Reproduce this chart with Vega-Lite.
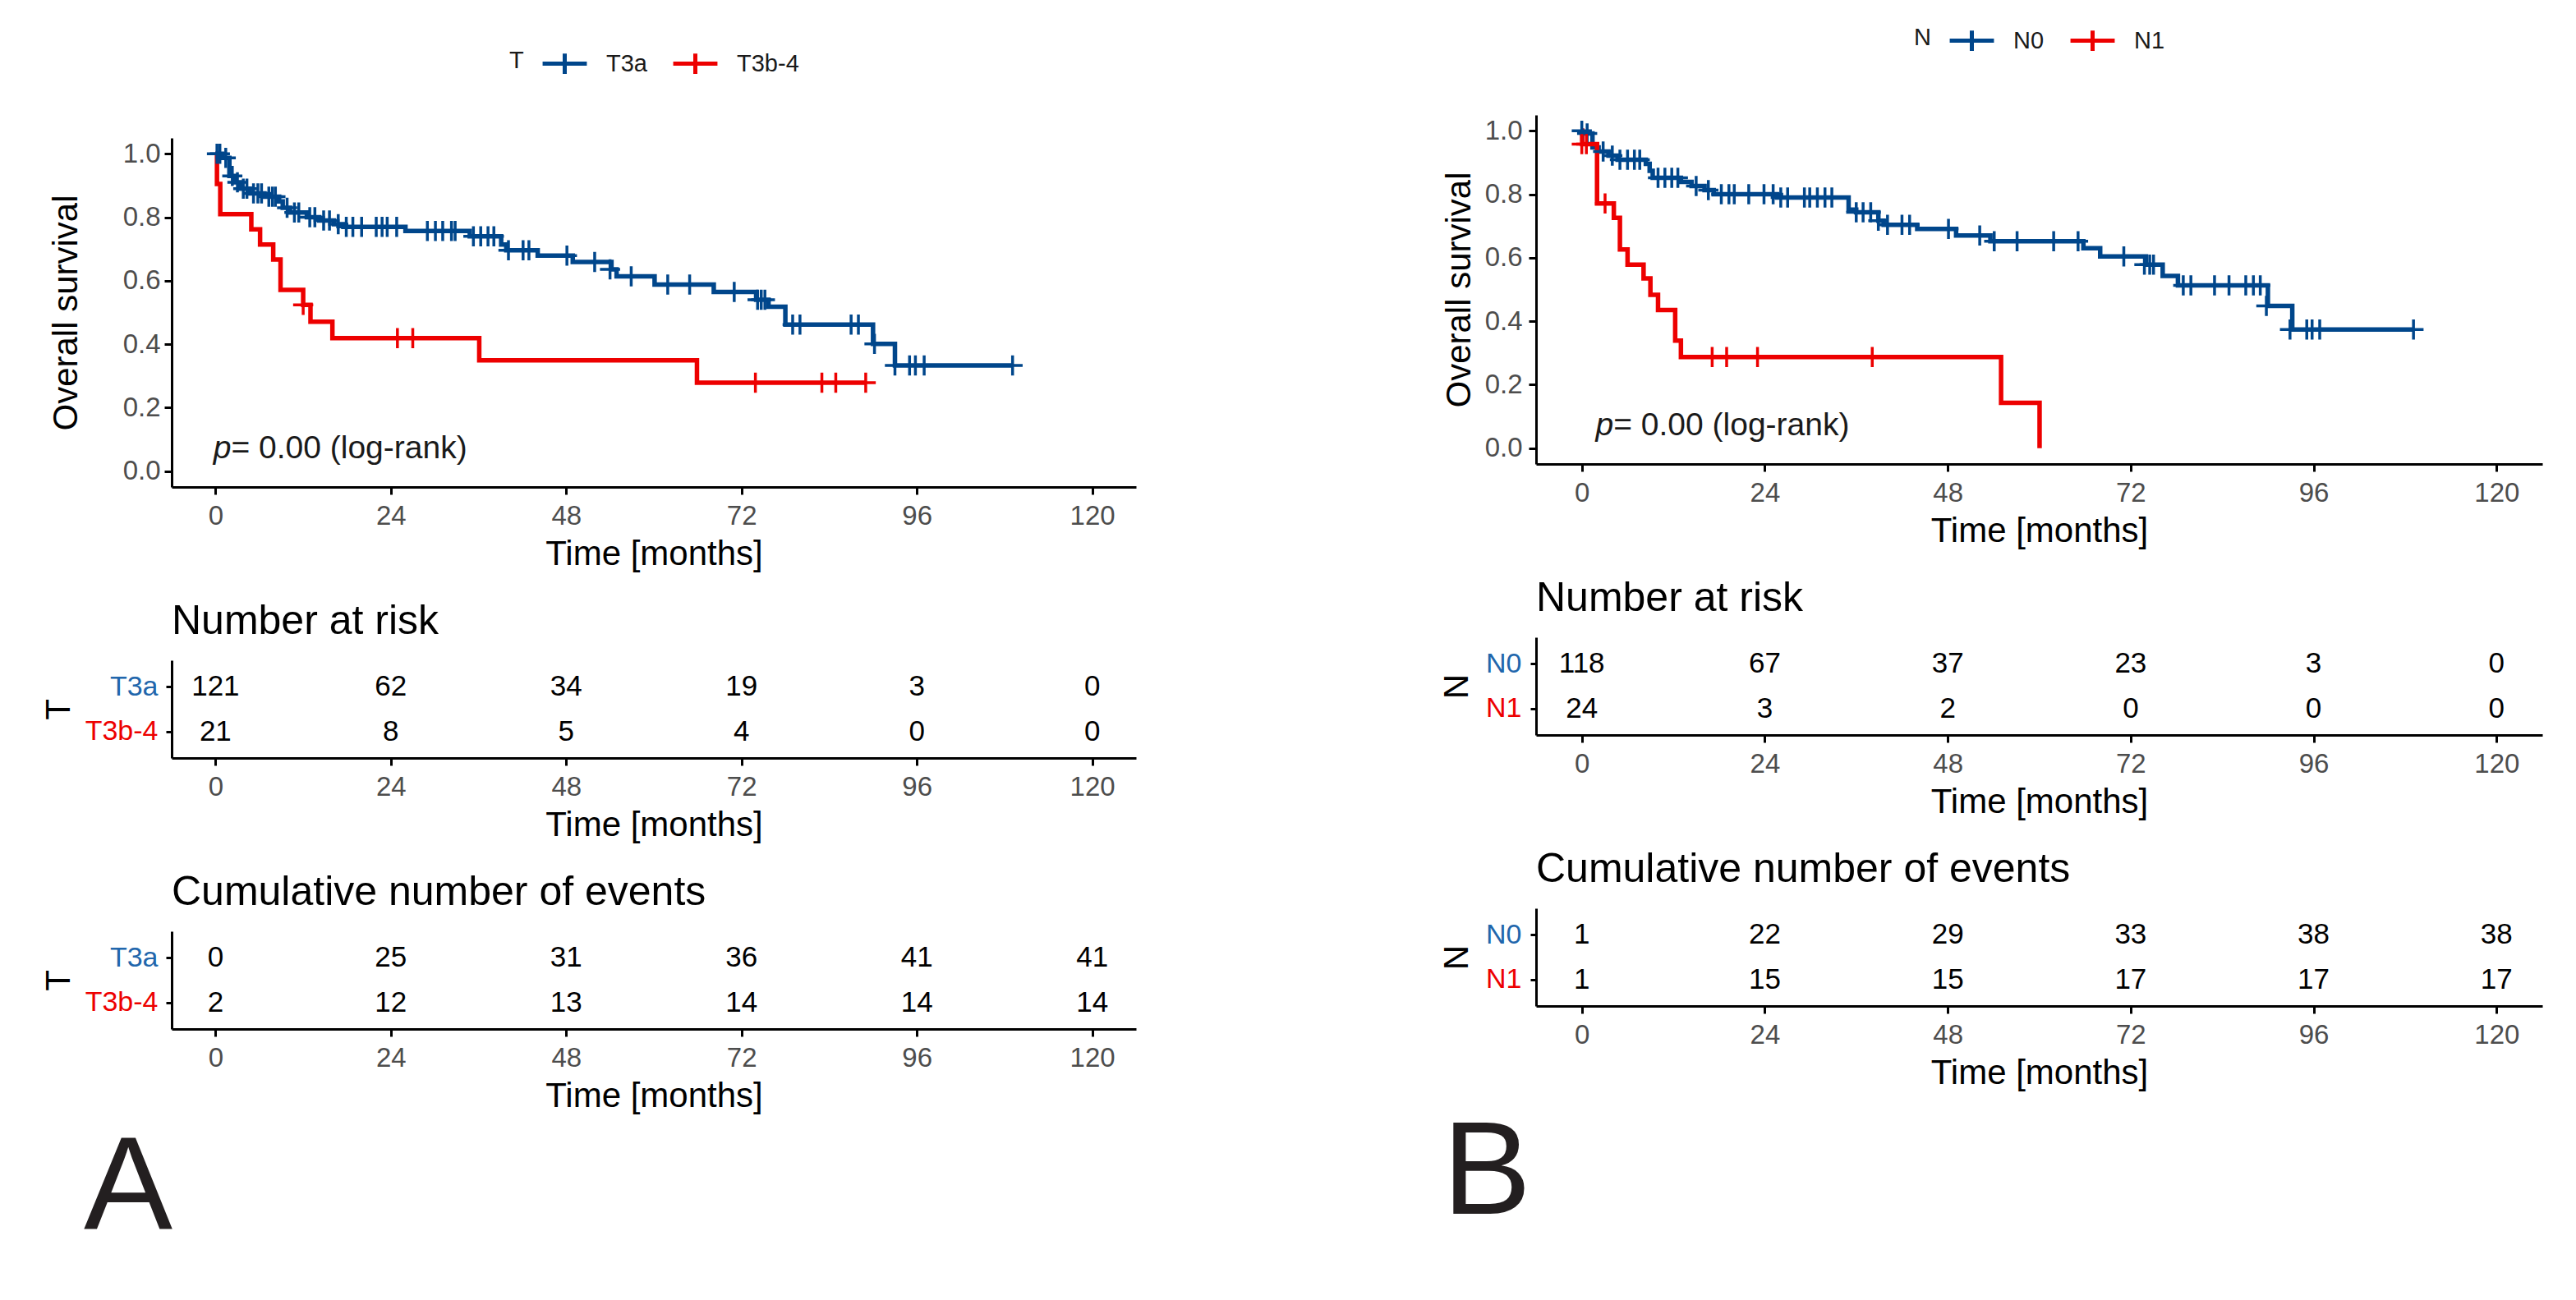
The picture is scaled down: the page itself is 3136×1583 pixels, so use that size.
{
  "$schema": "https://vega.github.io/schema/vega-lite/v6.json",
  "background": "white",
  "padding": {"left": 50, "top": 20, "right": 5, "bottom": 5},
  "config": {
    "view": {"stroke": null},
    "font": "Liberation Sans",
    "axis": {"domainColor": "#000000", "domainWidth": 3, "tickColor": "#000000", "tickWidth": 3, "tickSize": 9, "labelColor": "#4D4D4D", "labelFont": "Liberation Sans", "labelFontSize": 33, "titleFont": "Liberation Sans", "titleFontSize": 42, "titleFontWeight": "normal", "titleColor": "#000000", "grid": false, "labelFlush": false, "labelOverlap": false},
    "axisX": {"labelPadding": 10.6, "titlePadding": 9},
    "legend": {"layout": {"top": {"anchor": "middle"}}},
    "title": {"font": "Liberation Sans", "fontWeight": "normal", "color": "#000000"}
  },
  "datasets": {
    "kmA": [
      {"g":"T3a","k":"s","t":0,"s":1.0},{"g":"T3a","k":"s","t":0.9,"s":0.987},{"g":"T3a","k":"s","t":1.9,"s":0.930},{"g":"T3a","k":"s","t":2.7,"s":0.910},{"g":"T3a","k":"s","t":3.4,"s":0.890},{"g":"T3a","k":"s","t":4.7,"s":0.875},{"g":"T3a","k":"s","t":6.7,"s":0.865},{"g":"T3a","k":"s","t":8.7,"s":0.850},{"g":"T3a","k":"s","t":9.2,"s":0.830},{"g":"T3a","k":"s","t":10.2,"s":0.815},{"g":"T3a","k":"s","t":12.5,"s":0.800},{"g":"T3a","k":"s","t":14.2,"s":0.790},{"g":"T3a","k":"s","t":16.2,"s":0.778},{"g":"T3a","k":"s","t":17.5,"s":0.770},{"g":"T3a","k":"s","t":26.0,"s":0.757},{"g":"T3a","k":"s","t":34.8,"s":0.740},{"g":"T3a","k":"s","t":39.1,"s":0.714},{"g":"T3a","k":"s","t":39.8,"s":0.696},{"g":"T3a","k":"s","t":44.1,"s":0.679},{"g":"T3a","k":"s","t":48.9,"s":0.659},{"g":"T3a","k":"s","t":54.2,"s":0.636},{"g":"T3a","k":"s","t":54.9,"s":0.614},{"g":"T3a","k":"s","t":60.1,"s":0.588},{"g":"T3a","k":"s","t":68.2,"s":0.565},{"g":"T3a","k":"s","t":74.0,"s":0.540},{"g":"T3a","k":"s","t":75.7,"s":0.518},{"g":"T3a","k":"s","t":78.0,"s":0.462},{"g":"T3a","k":"s","t":90.0,"s":0.401},{"g":"T3a","k":"s","t":93.0,"s":0.333},{"g":"T3a","k":"s","t":109.1,"s":0.333},
      {"g":"T3a","k":"c","t":0.2,"s":1.0},{"g":"T3a","k":"c","t":0.6,"s":1.0},{"g":"T3a","k":"c","t":1.4,"s":0.987},{"g":"T3a","k":"c","t":2.3,"s":0.930},{"g":"T3a","k":"c","t":3.0,"s":0.910},{"g":"T3a","k":"c","t":3.8,"s":0.890},{"g":"T3a","k":"c","t":4.3,"s":0.890},{"g":"T3a","k":"c","t":5.2,"s":0.875},{"g":"T3a","k":"c","t":5.8,"s":0.875},{"g":"T3a","k":"c","t":6.3,"s":0.875},{"g":"T3a","k":"c","t":7.3,"s":0.865},{"g":"T3a","k":"c","t":7.8,"s":0.865},{"g":"T3a","k":"c","t":8.2,"s":0.865},{"g":"T3a","k":"c","t":9.8,"s":0.830},{"g":"T3a","k":"c","t":10.8,"s":0.815},{"g":"T3a","k":"c","t":11.4,"s":0.815},{"g":"T3a","k":"c","t":12.9,"s":0.800},{"g":"T3a","k":"c","t":13.6,"s":0.800},{"g":"T3a","k":"c","t":14.8,"s":0.790},{"g":"T3a","k":"c","t":15.6,"s":0.790},{"g":"T3a","k":"c","t":16.8,"s":0.778},{"g":"T3a","k":"c","t":17.9,"s":0.770},{"g":"T3a","k":"c","t":18.8,"s":0.770},{"g":"T3a","k":"c","t":20.0,"s":0.770},{"g":"T3a","k":"c","t":22.0,"s":0.770},{"g":"T3a","k":"c","t":22.8,"s":0.770},{"g":"T3a","k":"c","t":23.5,"s":0.770},{"g":"T3a","k":"c","t":24.8,"s":0.770},{"g":"T3a","k":"c","t":29.0,"s":0.757},{"g":"T3a","k":"c","t":30.1,"s":0.757},{"g":"T3a","k":"c","t":31.1,"s":0.757},{"g":"T3a","k":"c","t":32.3,"s":0.757},{"g":"T3a","k":"c","t":32.8,"s":0.757},{"g":"T3a","k":"c","t":35.3,"s":0.740},{"g":"T3a","k":"c","t":36.3,"s":0.740},{"g":"T3a","k":"c","t":37.3,"s":0.740},{"g":"T3a","k":"c","t":38.1,"s":0.740},{"g":"T3a","k":"c","t":40.1,"s":0.696},{"g":"T3a","k":"c","t":42.1,"s":0.696},{"g":"T3a","k":"c","t":42.9,"s":0.696},{"g":"T3a","k":"c","t":48.1,"s":0.679},{"g":"T3a","k":"c","t":51.9,"s":0.659},{"g":"T3a","k":"c","t":54.0,"s":0.636},{"g":"T3a","k":"c","t":56.9,"s":0.614},{"g":"T3a","k":"c","t":61.9,"s":0.588},{"g":"T3a","k":"c","t":64.9,"s":0.588},{"g":"T3a","k":"c","t":71.0,"s":0.565},{"g":"T3a","k":"c","t":74.2,"s":0.540},{"g":"T3a","k":"c","t":74.7,"s":0.540},{"g":"T3a","k":"c","t":75.2,"s":0.540},{"g":"T3a","k":"c","t":79.0,"s":0.462},{"g":"T3a","k":"c","t":80.0,"s":0.462},{"g":"T3a","k":"c","t":87.0,"s":0.462},{"g":"T3a","k":"c","t":88.0,"s":0.462},{"g":"T3a","k":"c","t":90.2,"s":0.401},{"g":"T3a","k":"c","t":93.0,"s":0.333},{"g":"T3a","k":"c","t":95.0,"s":0.333},{"g":"T3a","k":"c","t":95.8,"s":0.333},{"g":"T3a","k":"c","t":97.0,"s":0.333},{"g":"T3a","k":"c","t":109.1,"s":0.333},
      {"g":"T3b-4","k":"s","t":0,"s":1.0},{"g":"T3b-4","k":"s","t":0.2,"s":0.905},{"g":"T3b-4","k":"s","t":0.65,"s":0.810},{"g":"T3b-4","k":"s","t":4.9,"s":0.762},{"g":"T3b-4","k":"s","t":6.1,"s":0.714},{"g":"T3b-4","k":"s","t":7.9,"s":0.667},{"g":"T3b-4","k":"s","t":8.9,"s":0.571},{"g":"T3b-4","k":"s","t":12.0,"s":0.524},{"g":"T3b-4","k":"s","t":13.0,"s":0.471},{"g":"T3b-4","k":"s","t":16.0,"s":0.419},{"g":"T3b-4","k":"s","t":36.1,"s":0.349},{"g":"T3b-4","k":"s","t":65.9,"s":0.279},{"g":"T3b-4","k":"s","t":89.0,"s":0.279},
      {"g":"T3b-4","k":"c","t":12.0,"s":0.524},{"g":"T3b-4","k":"c","t":24.9,"s":0.419},{"g":"T3b-4","k":"c","t":27.0,"s":0.419},{"g":"T3b-4","k":"c","t":73.9,"s":0.279},{"g":"T3b-4","k":"c","t":83.0,"s":0.279},{"g":"T3b-4","k":"c","t":84.9,"s":0.279},{"g":"T3b-4","k":"c","t":89.0,"s":0.279}
    ],
    "kmB": [
      {"g":"N0","k":"s","t":0,"s":1.0},{"g":"N0","k":"s","t":0.05,"s":0.992},{"g":"N0","k":"s","t":1.4,"s":0.948},{"g":"N0","k":"s","t":2.2,"s":0.935},{"g":"N0","k":"s","t":3.5,"s":0.922},{"g":"N0","k":"s","t":4.7,"s":0.909},{"g":"N0","k":"s","t":8.4,"s":0.896},{"g":"N0","k":"s","t":8.9,"s":0.874},{"g":"N0","k":"s","t":9.3,"s":0.852},{"g":"N0","k":"s","t":13.0,"s":0.839},{"g":"N0","k":"s","t":14.4,"s":0.826},{"g":"N0","k":"s","t":16.1,"s":0.813},{"g":"N0","k":"s","t":17.3,"s":0.800},{"g":"N0","k":"s","t":25.6,"s":0.790},{"g":"N0","k":"s","t":35.0,"s":0.752},{"g":"N0","k":"s","t":36.0,"s":0.743},{"g":"N0","k":"s","t":38.9,"s":0.717},{"g":"N0","k":"s","t":39.6,"s":0.704},{"g":"N0","k":"s","t":44.0,"s":0.691},{"g":"N0","k":"s","t":49.1,"s":0.670},{"g":"N0","k":"s","t":53.6,"s":0.652},{"g":"N0","k":"s","t":65.8,"s":0.630},{"g":"N0","k":"s","t":68.0,"s":0.604},{"g":"N0","k":"s","t":74.0,"s":0.578},{"g":"N0","k":"s","t":76.2,"s":0.543},{"g":"N0","k":"s","t":78.2,"s":0.513},{"g":"N0","k":"s","t":90.0,"s":0.448},{"g":"N0","k":"s","t":93.2,"s":0.374},{"g":"N0","k":"s","t":109.1,"s":0.374},
      {"g":"N0","k":"c","t":0.0,"s":1.0},{"g":"N0","k":"c","t":0.7,"s":0.992},{"g":"N0","k":"c","t":2.8,"s":0.935},{"g":"N0","k":"c","t":4.0,"s":0.922},{"g":"N0","k":"c","t":5.0,"s":0.909},{"g":"N0","k":"c","t":6.0,"s":0.909},{"g":"N0","k":"c","t":6.9,"s":0.909},{"g":"N0","k":"c","t":7.6,"s":0.909},{"g":"N0","k":"c","t":10.0,"s":0.852},{"g":"N0","k":"c","t":10.9,"s":0.852},{"g":"N0","k":"c","t":11.8,"s":0.852},{"g":"N0","k":"c","t":12.6,"s":0.852},{"g":"N0","k":"c","t":15.0,"s":0.826},{"g":"N0","k":"c","t":16.6,"s":0.813},{"g":"N0","k":"c","t":18.3,"s":0.800},{"g":"N0","k":"c","t":19.3,"s":0.800},{"g":"N0","k":"c","t":20.0,"s":0.800},{"g":"N0","k":"c","t":21.9,"s":0.800},{"g":"N0","k":"c","t":23.9,"s":0.800},{"g":"N0","k":"c","t":25.1,"s":0.800},{"g":"N0","k":"c","t":26.1,"s":0.790},{"g":"N0","k":"c","t":27.0,"s":0.790},{"g":"N0","k":"c","t":29.2,"s":0.790},{"g":"N0","k":"c","t":29.9,"s":0.790},{"g":"N0","k":"c","t":30.9,"s":0.790},{"g":"N0","k":"c","t":31.9,"s":0.790},{"g":"N0","k":"c","t":32.8,"s":0.790},{"g":"N0","k":"c","t":36.0,"s":0.743},{"g":"N0","k":"c","t":36.9,"s":0.743},{"g":"N0","k":"c","t":37.9,"s":0.743},{"g":"N0","k":"c","t":38.9,"s":0.717},{"g":"N0","k":"c","t":40.1,"s":0.704},{"g":"N0","k":"c","t":42.0,"s":0.704},{"g":"N0","k":"c","t":43.0,"s":0.704},{"g":"N0","k":"c","t":48.1,"s":0.691},{"g":"N0","k":"c","t":52.2,"s":0.670},{"g":"N0","k":"c","t":54.1,"s":0.652},{"g":"N0","k":"c","t":57.1,"s":0.652},{"g":"N0","k":"c","t":61.9,"s":0.652},{"g":"N0","k":"c","t":65.1,"s":0.652},{"g":"N0","k":"c","t":71.1,"s":0.604},{"g":"N0","k":"c","t":73.8,"s":0.578},{"g":"N0","k":"c","t":74.5,"s":0.578},{"g":"N0","k":"c","t":75.0,"s":0.578},{"g":"N0","k":"c","t":78.9,"s":0.513},{"g":"N0","k":"c","t":79.9,"s":0.513},{"g":"N0","k":"c","t":83.0,"s":0.513},{"g":"N0","k":"c","t":84.9,"s":0.513},{"g":"N0","k":"c","t":87.1,"s":0.513},{"g":"N0","k":"c","t":88.1,"s":0.513},{"g":"N0","k":"c","t":89.0,"s":0.513},{"g":"N0","k":"c","t":89.8,"s":0.448},{"g":"N0","k":"c","t":92.9,"s":0.374},{"g":"N0","k":"c","t":95.1,"s":0.374},{"g":"N0","k":"c","t":95.8,"s":0.374},{"g":"N0","k":"c","t":96.8,"s":0.374},{"g":"N0","k":"c","t":109.1,"s":0.374},
      {"g":"N1","k":"s","t":0,"s":1.0},{"g":"N1","k":"s","t":0.05,"s":0.958},{"g":"N1","k":"s","t":2.0,"s":0.771},{"g":"N1","k":"s","t":4.2,"s":0.726},{"g":"N1","k":"s","t":5.0,"s":0.626},{"g":"N1","k":"s","t":6.0,"s":0.578},{"g":"N1","k":"s","t":8.1,"s":0.535},{"g":"N1","k":"s","t":9.0,"s":0.483},{"g":"N1","k":"s","t":10.0,"s":0.435},{"g":"N1","k":"s","t":12.25,"s":0.339},{"g":"N1","k":"s","t":13.0,"s":0.287},{"g":"N1","k":"s","t":55.0,"s":0.143},{"g":"N1","k":"s","t":60.05,"s":0.0},
      {"g":"N1","k":"c","t":0.0,"s":0.958},{"g":"N1","k":"c","t":0.6,"s":0.958},{"g":"N1","k":"c","t":3.05,"s":0.771},{"g":"N1","k":"c","t":17.1,"s":0.287},{"g":"N1","k":"c","t":19.0,"s":0.287},{"g":"N1","k":"c","t":23.05,"s":0.287},{"g":"N1","k":"c","t":38.1,"s":0.287}
    ],
    "riskA": [
      {"g":"T3a","t":0,"n":121},{"g":"T3a","t":24,"n":62},{"g":"T3a","t":48,"n":34},{"g":"T3a","t":72,"n":19},{"g":"T3a","t":96,"n":3},{"g":"T3a","t":120,"n":0},
      {"g":"T3b-4","t":0,"n":21},{"g":"T3b-4","t":24,"n":8},{"g":"T3b-4","t":48,"n":5},{"g":"T3b-4","t":72,"n":4},{"g":"T3b-4","t":96,"n":0},{"g":"T3b-4","t":120,"n":0}
    ],
    "evA": [
      {"g":"T3a","t":0,"n":0},{"g":"T3a","t":24,"n":25},{"g":"T3a","t":48,"n":31},{"g":"T3a","t":72,"n":36},{"g":"T3a","t":96,"n":41},{"g":"T3a","t":120,"n":41},
      {"g":"T3b-4","t":0,"n":2},{"g":"T3b-4","t":24,"n":12},{"g":"T3b-4","t":48,"n":13},{"g":"T3b-4","t":72,"n":14},{"g":"T3b-4","t":96,"n":14},{"g":"T3b-4","t":120,"n":14}
    ],
    "riskB": [
      {"g":"N0","t":0,"n":118},{"g":"N0","t":24,"n":67},{"g":"N0","t":48,"n":37},{"g":"N0","t":72,"n":23},{"g":"N0","t":96,"n":3},{"g":"N0","t":120,"n":0},
      {"g":"N1","t":0,"n":24},{"g":"N1","t":24,"n":3},{"g":"N1","t":48,"n":2},{"g":"N1","t":72,"n":0},{"g":"N1","t":96,"n":0},{"g":"N1","t":120,"n":0}
    ],
    "evB": [
      {"g":"N0","t":0,"n":1},{"g":"N0","t":24,"n":22},{"g":"N0","t":48,"n":29},{"g":"N0","t":72,"n":33},{"g":"N0","t":96,"n":38},{"g":"N0","t":120,"n":38},
      {"g":"N1","t":0,"n":1},{"g":"N1","t":24,"n":15},{"g":"N1","t":48,"n":15},{"g":"N1","t":72,"n":17},{"g":"N1","t":96,"n":17},{"g":"N1","t":120,"n":17}
    ]
  },
  "bounds": "flush",
  "spacing": 1661,
  "resolve": {"scale": {"color": "independent"}, "legend": {"color": "independent"}},
  "hconcat": [
    {
      "bounds": "flush",
      "spacing": 27,
      "resolve": {"scale": {"color": "independent"}, "legend": {"color": "independent"}},
      "vconcat": [
        {"width": 2, "height": 1, "data": {"values": [{"lab": ""}]}, "mark": {"type": "point", "opacity": 0}},
        {
          "bounds": "flush",
          "spacing": 211,
          "resolve": {"scale": {"color": "independent"}, "legend": {"color": "independent"}},
          "vconcat": [
            {
              "width": 1174, "height": 425,
              "data": {"name": "kmA"},
              "encoding": {
                "x": {"field": "t", "type": "quantitative", "scale": {"domain": [-6, 126], "nice": false, "zero": false}, "axis": {"values": [0, 24, 48, 72, 96, 120], "title": "Time [months]"}},
                "y": {"field": "s", "type": "quantitative", "scale": {"domain": [-0.05, 1.05], "nice": false, "zero": false}, "axis": {"values": [0, 0.2, 0.4, 0.6, 0.8, 1], "format": ".1f", "title": "Overall survival", "titlePadding": 47, "labelPadding": 5}}
              },
              "layer": [
                {"transform": [{"filter": "datum.k == 's'"}], "mark": {"type": "line", "interpolate": "step-after", "strokeWidth": 5.5},
                 "encoding": {"color": {"field": "g", "type": "nominal", "scale": {"domain": ["T3a", "T3b-4"], "range": ["#00468B", "#ED0000"]},
                   "legend": {"orient": "top", "direction": "horizontal", "title": "T", "titleOrient": "left", "titleAnchor": "middle", "titleBaseline": "middle", "titleFontSize": 29, "titleFontWeight": "normal", "titleColor": "#1A1A1A", "titleFont": "Liberation Sans", "titlePadding": 20, "labelFontSize": 29, "labelColor": "#1A1A1A", "labelFont": "Liberation Sans", "symbolType": "M-1,0H1M0,-0.46V0.46", "symbolSize": 2900, "symbolStrokeWidth": 5, "labelOffset": 21, "columnPadding": 21, "offset": 68, "padding": 0}}}},
                {"transform": [{"filter": "datum.k == 'c'"}], "mark": {"type": "point", "shape": "M-1,0H1M0,-1V1", "filled": false, "size": 600, "strokeWidth": 3.5, "opacity": 1},
                 "encoding": {"color": {"field": "g", "type": "nominal"}}},
                {"data": {"values": [{"lab": "p", "t": -0.3, "s": 0.072}]}, "mark": {"type": "text", "fontStyle": "italic", "fontSize": 39, "align": "left", "baseline": "middle", "color": "#1A1A1A", "font": "Liberation Sans"},
                 "encoding": {"text": {"field": "lab"}}},
                {"data": {"values": [{"lab": "= 0.00 (log-rank)", "t": 2.14, "s": 0.072}]}, "mark": {"type": "text", "fontSize": 39, "align": "left", "baseline": "middle", "color": "#1A1A1A", "font": "Liberation Sans"},
                 "encoding": {"text": {"field": "lab"}}}
              ]
            },
            {
              "width": 1174, "height": 119,
              "title": {"text": "Number at risk", "anchor": "start", "frame": "group", "fontSize": 50, "baseline": "alphabetic", "offset": -18},
              "data": {"name": "riskA"},
              "mark": {"type": "text", "fontSize": 35, "color": "#000000", "baseline": "middle", "font": "Liberation Sans"},
              "encoding": {
                "x": {"field": "t", "type": "quantitative", "scale": {"domain": [-6, 126], "nice": false, "zero": false}, "axis": {"values": [0, 24, 48, 72, 96, 120], "title": "Time [months]"}},
                "y": {"field": "g", "type": "nominal", "sort": null, "scale": {"type": "point", "domain": ["T3a", "T3b-4"], "padding": 0.6}, "axis": {"title": "T", "titlePadding": 10, "labelFontSize": 34, "tickSize": 7, "labelPadding": 10, "labelColor": {"condition": {"test": "datum.value === 'T3a'", "value": "#2166AC"}, "value": "#ED0000"}}},
                "text": {"field": "n", "type": "quantitative"}
              }
            },
            {
              "width": 1174, "height": 119,
              "title": {"text": "Cumulative number of events", "anchor": "start", "frame": "group", "fontSize": 50, "baseline": "alphabetic", "offset": -18},
              "data": {"name": "evA"},
              "mark": {"type": "text", "fontSize": 35, "color": "#000000", "baseline": "middle", "font": "Liberation Sans"},
              "encoding": {
                "x": {"field": "t", "type": "quantitative", "scale": {"domain": [-6, 126], "nice": false, "zero": false}, "axis": {"values": [0, 24, 48, 72, 96, 120], "title": "Time [months]"}},
                "y": {"field": "g", "type": "nominal", "sort": null, "scale": {"type": "point", "domain": ["T3a", "T3b-4"], "padding": 0.6}, "axis": {"title": "T", "titlePadding": 10, "labelFontSize": 34, "tickSize": 7, "labelPadding": 10, "labelColor": {"condition": {"test": "datum.value === 'T3a'", "value": "#2166AC"}, "value": "#ED0000"}}},
                "text": {"field": "n", "type": "quantitative"}
              }
            },
            {"width": 2, "height": 66, "data": {"values": [{"lab": "A"}]}, "mark": {"type": "text", "fontSize": 162, "align": "right", "baseline": "alphabetic", "color": "#231F20", "font": "Liberation Sans"}, "encoding": {"text": {"field": "lab"}}}
          ]
        }
      ]
    },
    {
      "bounds": "flush",
      "spacing": 211,
      "resolve": {"scale": {"color": "independent"}, "legend": {"color": "independent"}},
      "vconcat": [
        {
          "width": 1225, "height": 425,
          "data": {"name": "kmB"},
          "encoding": {
            "x": {"field": "t", "type": "quantitative", "scale": {"domain": [-6, 126], "nice": false, "zero": false}, "axis": {"values": [0, 24, 48, 72, 96, 120], "title": "Time [months]"}},
            "y": {"field": "s", "type": "quantitative", "scale": {"domain": [-0.05, 1.05], "nice": false, "zero": false}, "axis": {"values": [0, 0.2, 0.4, 0.6, 0.8, 1], "format": ".1f", "title": "Overall survival", "titlePadding": 9, "labelPadding": 8}}
          },
          "layer": [
            {"transform": [{"filter": "datum.k == 's'"}], "mark": {"type": "line", "interpolate": "step-after", "strokeWidth": 5.5},
             "encoding": {"color": {"field": "g", "type": "nominal", "scale": {"domain": ["N0", "N1"], "range": ["#00468B", "#ED0000"]},
               "legend": {"orient": "top", "direction": "horizontal", "title": "N", "titleOrient": "left", "titleAnchor": "middle", "titleBaseline": "middle", "titleFontSize": 29, "titleFontWeight": "normal", "titleColor": "#1A1A1A", "titleFont": "Liberation Sans", "titlePadding": 20, "labelFontSize": 29, "labelColor": "#1A1A1A", "labelFont": "Liberation Sans", "symbolType": "M-1,0H1M0,-0.46V0.46", "symbolSize": 2900, "symbolStrokeWidth": 5, "labelOffset": 21, "columnPadding": 21, "offset": 68, "padding": 0}}}},
            {"transform": [{"filter": "datum.k == 'c'"}], "mark": {"type": "point", "shape": "M-1,0H1M0,-1V1", "filled": false, "size": 600, "strokeWidth": 3.5, "opacity": 1},
             "encoding": {"color": {"field": "g", "type": "nominal"}}},
            {"data": {"values": [{"lab": "p", "t": 1.8, "s": 0.072}]}, "mark": {"type": "text", "fontStyle": "italic", "fontSize": 39, "align": "left", "baseline": "middle", "color": "#1A1A1A", "font": "Liberation Sans"},
             "encoding": {"text": {"field": "lab"}}},
            {"data": {"values": [{"lab": "= 0.00 (log-rank)", "t": 4.15, "s": 0.072}]}, "mark": {"type": "text", "fontSize": 39, "align": "left", "baseline": "middle", "color": "#1A1A1A", "font": "Liberation Sans"},
             "encoding": {"text": {"field": "lab"}}}
          ]
        },
        {
          "width": 1225, "height": 119,
          "title": {"text": "Number at risk", "anchor": "start", "frame": "group", "fontSize": 50, "baseline": "alphabetic", "offset": -18},
          "data": {"name": "riskB"},
          "mark": {"type": "text", "fontSize": 35, "color": "#000000", "baseline": "middle", "font": "Liberation Sans"},
          "encoding": {
            "x": {"field": "t", "type": "quantitative", "scale": {"domain": [-6, 126], "nice": false, "zero": false}, "axis": {"values": [0, 24, 48, 72, 96, 120], "title": "Time [months]"}},
            "y": {"field": "g", "type": "nominal", "sort": null, "scale": {"type": "point", "domain": ["N0", "N1"], "padding": 0.6}, "axis": {"title": "N", "titlePadding": 13, "labelFontSize": 34, "tickSize": 7, "labelPadding": 11, "labelColor": {"condition": {"test": "datum.value === 'N0'", "value": "#2166AC"}, "value": "#ED0000"}}},
            "text": {"field": "n", "type": "quantitative"}
          }
        },
        {
          "width": 1225, "height": 119,
          "title": {"text": "Cumulative number of events", "anchor": "start", "frame": "group", "fontSize": 50, "baseline": "alphabetic", "offset": -18},
          "data": {"name": "evB"},
          "mark": {"type": "text", "fontSize": 35, "color": "#000000", "baseline": "middle", "font": "Liberation Sans"},
          "encoding": {
            "x": {"field": "t", "type": "quantitative", "scale": {"domain": [-6, 126], "nice": false, "zero": false}, "axis": {"values": [0, 24, 48, 72, 96, 120], "title": "Time [months]"}},
            "y": {"field": "g", "type": "nominal", "sort": null, "scale": {"type": "point", "domain": ["N0", "N1"], "padding": 0.6}, "axis": {"title": "N", "titlePadding": 13, "labelFontSize": 34, "tickSize": 7, "labelPadding": 11, "labelColor": {"condition": {"test": "datum.value === 'N0'", "value": "#2166AC"}, "value": "#ED0000"}}},
            "text": {"field": "n", "type": "quantitative"}
          }
        },
        {"width": 2, "height": 84, "data": {"values": [{"lab": "B"}]}, "mark": {"type": "text", "fontSize": 162, "align": "right", "baseline": "alphabetic", "dx": -7, "color": "#231F20", "font": "Liberation Sans"}, "encoding": {"text": {"field": "lab"}}}
      ]
    }
  ]
}
